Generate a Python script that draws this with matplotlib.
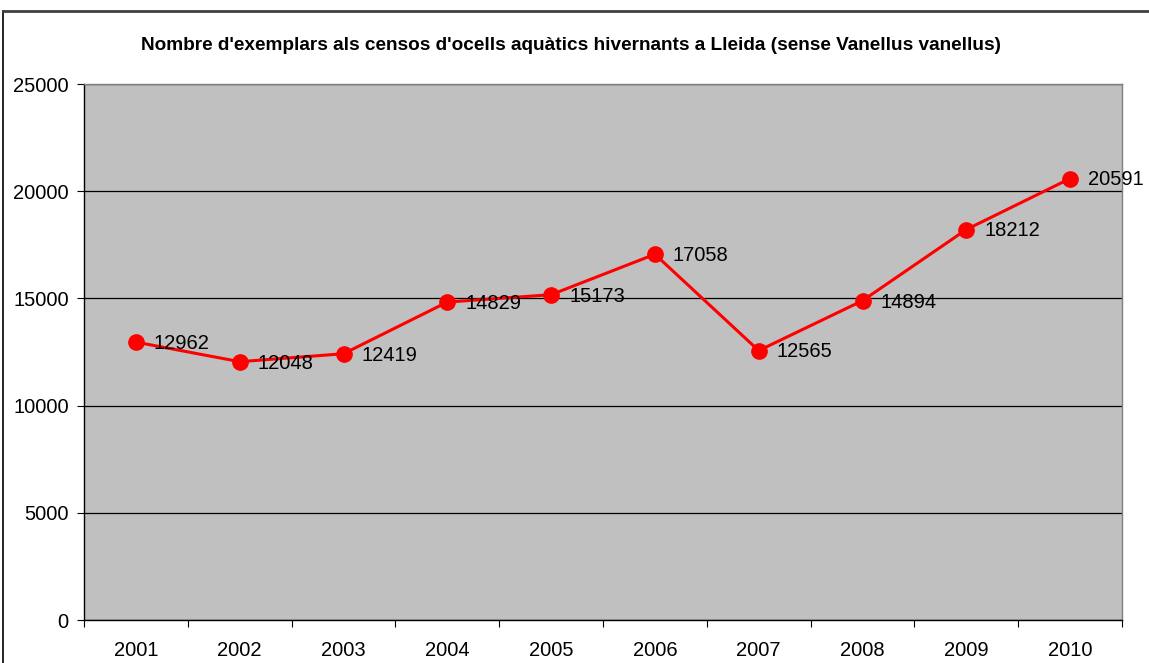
import matplotlib
matplotlib.use("Agg")
import matplotlib.pyplot as plt
from matplotlib.lines import Line2D

years = ["2001", "2002", "2003", "2004", "2005", "2006", "2007", "2008", "2009", "2010"]
counts = [12962, 12048, 12419, 14829, 15173, 17058, 12565, 14894, 18212, 20591]
title = "Nombre d'exemplars als censos d'ocells aquàtics hivernants a Lleida (sense Vanellus vanellus)"

plt.rcParams['font.family'] = ['Liberation Sans', 'DejaVu Sans']

W, H = 1149, 663
fig = plt.figure(figsize=(W / 100, H / 100), dpi=100)
fig.patch.set_facecolor('white')

# outer chart frame
fig.add_artist(Line2D([3 / W, 3 / W], [0, 1 - 11 / H], transform=fig.transFigure, color='black', lw=1.2))
fig.add_artist(Line2D([3 / W, 1], [1 - 11 / H, 1 - 11 / H], transform=fig.transFigure, color='#404040', lw=2))

ax = fig.add_axes([84 / W, 1 - 620 / H, (1122 - 84) / W, (620 - 84) / H])
ax.set_facecolor('#C0C0C0')

x = list(range(len(years)))
ax.plot(x, counts, color='#FF0000', lw=2.2, marker='o', markersize=11,
        markerfacecolor='#FF0000', markeredgecolor='#FF0000', zorder=3, clip_on=False)
for xi, v in zip(x, counts):
    ax.annotate(str(v), (xi, v), xytext=(13, -1), textcoords='offset points',
                va='center', ha='left', fontsize=14.5, color='black', zorder=4,
                annotation_clip=False)

ax.set_xlim(-0.5, len(years) - 0.5)
ax.set_ylim(0, 25000)
ax.set_yticks(range(0, 25001, 5000))
ax.yaxis.grid(True, color='black', lw=0.9)
ax.set_axisbelow(True)

ax.set_xticks([i + 0.5 for i in range(-1, len(years))])
ax.set_xticklabels([])
ax.set_xticks(x, minor=True)
ax.set_xticklabels(years, minor=True, fontsize=14.5)
ax.tick_params(axis='x', which='minor', length=0, pad=15)
ax.tick_params(axis='x', which='major', length=5, direction='out', color='black')
ax.tick_params(axis='y', length=5, direction='out', labelsize=14.5, pad=6)

for s in ['left', 'bottom']:
    ax.spines[s].set_color('black')
    ax.spines[s].set_linewidth(1)
for s in ['top', 'right']:
    ax.spines[s].set_color('#808080')
    ax.spines[s].set_linewidth(1)

fig.text(571 / W, 1 - 46 / H, title, ha='center', va='center',
         fontsize=13.7, fontweight='bold')

fig.savefig('out.png', dpi=100)
